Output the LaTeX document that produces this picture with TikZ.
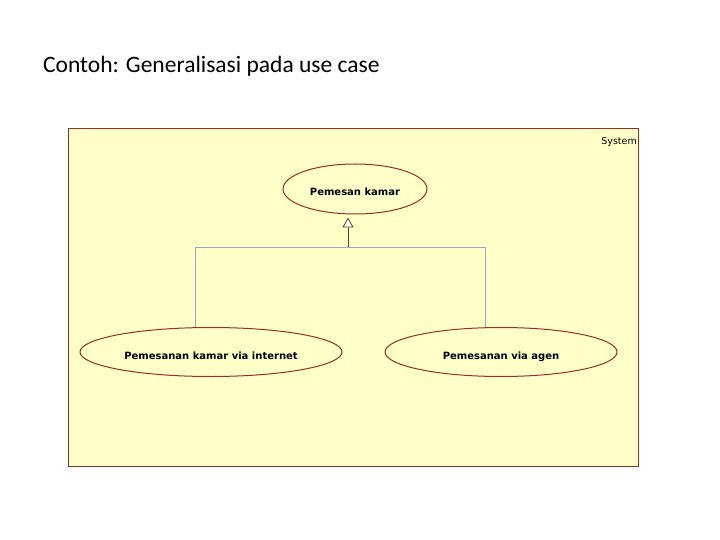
\documentclass[tikz,border=0pt]{standalone}
\usepackage{fontspec}
\setmainfont{Carlito}
\newfontfamily\ucfont{DejaVu Sans}
\usetikzlibrary{arrows,positioning,shapes.geometric}
\usetikzlibrary{arrows.meta}
\definecolor{colorSys}{HTML}{FFFFC8}
\definecolor{colorEdge}{HTML}{9A2E24}
\definecolor{colorGen}{HTML}{98A8C8}
\definecolor{colorStem}{HTML}{4A4A2A}

\begin{document}
\begin{tikzpicture}[x=1pt,y=-1pt,every node/.append style={align=center},uc/.style={draw=colorEdge, line width=1pt, ellipse, fill=colorSys, inner sep=0pt, text height=15.5pt, text depth=1.5pt, font=\ucfont\bfseries\fontsize{10}{12}\selectfont},gen/.style={draw=colorGen, line width=0.8pt},]
    \useasboundingbox (0,0) rectangle (720,540);
    \node [anchor=west, inner sep=0pt, font=\fontsize{23.5}{28}\selectfont] (title) at (43,66) {Contoh: Generalisasi pada use case};
    \node [draw=colorEdge, line width=1pt, fill=colorSys, minimum width=570pt, minimum height=338pt, anchor=north west] (sys) at (68,128) {};
    \node [anchor=north east, inner sep=2pt, font=\ucfont\fontsize{9.5}{11}\selectfont] at ([yshift=-7pt]sys.north east) {System};
    \node [uc, minimum width=144pt, minimum height=50pt] (book) at (355,189) {Pemesan kamar};
    \node [uc, minimum width=262pt, minimum height=49pt] (web) at (211,352) {Pemesanan kamar via internet};
    \node [uc, minimum width=232pt, minimum height=49pt] (agent) at (501,352) {Pemesanan via agen};
    \coordinate (join) at (348,247);
    \draw[gen] ([xshift=-16pt]web.north) |- (join);
    \draw[gen] ([xshift=-16pt]agent.north) |- (join);
    \draw[-{Triangle[width=11pt, length=10pt, fill=white]}, draw=colorStem, line width=0.8pt, shorten >=3pt] (join) -- (join |- book.south);
\end{tikzpicture}
\end{document}
